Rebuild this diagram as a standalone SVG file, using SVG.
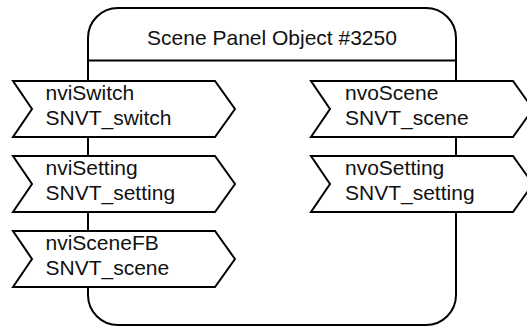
<svg xmlns="http://www.w3.org/2000/svg" width="527" height="327" viewBox="0 0 527 327">
<style>
.ln{fill:#fff;stroke:#000;stroke-width:2;stroke-linejoin:miter}
.sep{fill:none;stroke:#000;stroke-width:2}
text{font-family:"Liberation Sans",Arial,sans-serif;font-size:21px;fill:#111}
</style>
<rect x="0" y="0" width="527" height="327" fill="#fff"/>
<g id="object">
<path class="ln" d="M88,295 L88,38 A30,30 0 0 1 118,8 L426,8 A30,30 0 0 1 456,38 L456,295 A30,30 0 0 1 426,325 L118,325 A30,30 0 0 1 88,295 Z"/>
<path class="sep" d="M88,60.5 H456"/>
<text x="272" y="45" text-anchor="middle">Scene Panel Object #3250</text>
</g>
<g id="connectors"></g>
<g id="nviSwitch">
<path class="ln" d="M13,81 L215,81 L235,109 L215,137 L13,137 L32,109 Z"/>
<text x="45.5" y="99.5">nviSwitch</text>
<text x="45.5" y="125">SNVT_switch</text>
</g>
<g id="nviSetting">
<path class="ln" d="M13,156 L215,156 L235,184 L215,212 L13,212 L32,184 Z"/>
<text x="45.5" y="174.5">nviSetting</text>
<text x="45.5" y="200">SNVT_setting</text>
</g>
<g id="nviSceneFB">
<path class="ln" d="M13,231 L215,231 L235,259 L215,287 L13,287 L32,259 Z"/>
<text x="45.5" y="249.5">nviSceneFB</text>
<text x="45.5" y="275">SNVT_scene</text>
</g>
<g id="nvoScene">
<path class="ln" d="M311,81 L513,81 L533,109 L513,137 L311,137 L330,109 Z"/>
<text x="345" y="99.5">nvoScene</text>
<text x="345" y="125">SNVT_scene</text>
</g>
<g id="nvoSetting">
<path class="ln" d="M311,156 L513,156 L533,184 L513,212 L311,212 L330,184 Z"/>
<text x="345" y="174.5">nvoSetting</text>
<text x="345" y="200">SNVT_setting</text>
</g>
</svg>
